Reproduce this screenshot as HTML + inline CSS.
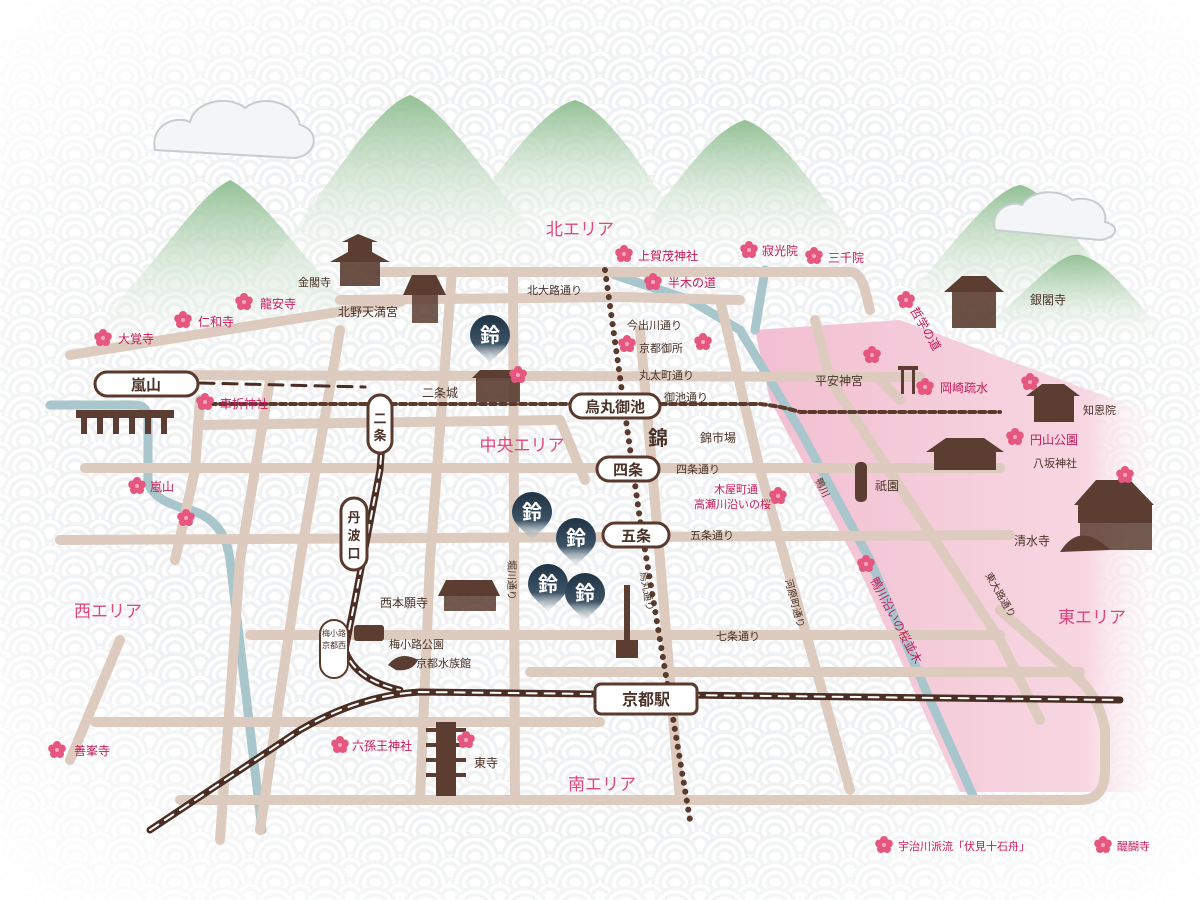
<!DOCTYPE html>
<html><head><meta charset="utf-8">
<style>
html,body{margin:0;padding:0;background:#fff;}
svg{display:block;font-family:"Liberation Sans","Noto Sans CJK JP",sans-serif;}
.t{fill:#4a3328;font-size:11px;}
.p{fill:#c8195a;font-size:12px;}
.area{fill:#e0457e;font-size:17px;}
.st{fill:#4a3328;font-size:15px;font-weight:bold;}
</style></head><body>
<svg width="1200" height="900" viewBox="0 0 1200 900">
<defs>
<pattern id="wave" width="50" height="26" patternUnits="userSpaceOnUse">
 <rect width="50" height="26" fill="#fff"/>
 <g fill="none" stroke="#f0f1f2" stroke-width="3.5">
  <circle cx="0" cy="13" r="22"/><circle cx="0" cy="13" r="15"/><circle cx="0" cy="13" r="8"/>
  <circle cx="50" cy="13" r="22"/><circle cx="50" cy="13" r="15"/><circle cx="50" cy="13" r="8"/>
 </g>
 <circle cx="25" cy="26" r="24" fill="#fff"/>
 <g fill="none" stroke="#f0f1f2" stroke-width="3.5">
  <circle cx="25" cy="26" r="22"/><circle cx="25" cy="26" r="15"/><circle cx="25" cy="26" r="8"/>
 </g>
</pattern>
<radialGradient id="fade" cx="50%" cy="50%" r="70%">
 <stop offset="0.6" stop-color="#fff" stop-opacity="0"/>
 <stop offset="1" stop-color="#fff" stop-opacity="1"/>
</radialGradient>
<linearGradient id="mt" x1="0" y1="0" x2="0" y2="1">
 <stop offset="0" stop-color="#93c095"/>
 <stop offset="0.45" stop-color="#cfe3cf" stop-opacity="0.7"/>
 <stop offset="1" stop-color="#fff" stop-opacity="0"/>
</linearGradient>
<linearGradient id="pink" x1="0" y1="0" x2="1" y2="0">
 <stop offset="0" stop-color="#f2bfd1"/>
 <stop offset="0.8" stop-color="#f7d7e2"/>
 <stop offset="1" stop-color="#fff" stop-opacity="0"/>
</linearGradient>
<linearGradient id="pin" x1="0" y1="0" x2="0" y2="1">
 <stop offset="0" stop-color="#1e3344"/>
 <stop offset="0.6" stop-color="#3d5466"/>
 <stop offset="1" stop-color="#c9d3da" stop-opacity="0.2"/>
</linearGradient>
<g id="sak"><g fill="#e5577f">
 <circle cx="0" cy="-5" r="4"/><circle cx="4.8" cy="-1.5" r="4"/><circle cx="3" cy="4" r="4"/><circle cx="-3" cy="4" r="4"/><circle cx="-4.8" cy="-1.5" r="4"/></g>
 <circle r="2" fill="#f7a8c0"/></g>
<g id="pinm"><path d="M0,28 C-8,18 -20,12 -20,0 A20,20 0 1 1 20,0 C20,12 8,18 0,28Z" fill="url(#pin)"/>
 <text x="0" y="7" text-anchor="middle" fill="#fff" font-size="20" font-weight="bold">鈴</text></g>
</defs>
<rect width="1200" height="900" fill="url(#wave)"/>
<rect width="1200" height="900" fill="url(#fade)"/>

<g fill="url(#mt)">
 <path d="M60,360 C150,280 190,200 230,180 C270,200 330,300 380,330 Z"/>
 <path d="M250,290 C320,200 370,110 410,95 C450,110 500,200 560,260 Z"/>
 <path d="M440,250 C500,170 540,110 575,100 C610,110 650,180 700,250 Z"/>
 <path d="M620,260 C670,190 710,130 745,120 C780,130 830,210 880,270 Z"/>
 <path d="M880,330 C940,260 990,190 1020,185 C1050,190 1090,260 1120,300 Z"/>
 <path d="M980,330 C1030,290 1060,250 1080,255 C1110,260 1150,320 1180,350 Z"/>
</g>
<g fill="#f4f5f6" stroke="#c8cdd0" stroke-width="2">
 <path d="M155,150 C150,125 175,115 190,122 C195,100 230,95 245,108 C260,95 295,100 300,125 C320,130 318,155 295,158 Z"/>
 <path d="M995,230 C990,210 1010,200 1022,205 C1030,190 1060,188 1072,200 C1090,195 1108,205 1105,222 C1120,225 1118,238 1100,240 Z"/>
</g>

<path d="M755,330 L900,320 L1170,420 L1170,792 L960,792 L855,560 L770,400 Z" fill="url(#pink)"/>

<g fill="none" stroke="#a9c6cd" stroke-width="9" stroke-linecap="round">
 <path d="M615,275 L690,300 L740,330 L800,430 L870,560 L930,700 L975,800"/>
 <path d="M765,270 L755,330"/>
 <path d="M50,405 L135,405 Q148,405 148,420 L148,480 Q150,500 190,510 Q225,520 230,560 L262,830"/>
</g>

<g fill="none" stroke="#ddcbbf" stroke-width="10" stroke-linecap="round" stroke-linejoin="round">
 <path d="M380,272 L850,272 Q860,272 865,290 L870,310"/>
 <path d="M340,300 L620,297 L740,300"/>
 <path d="M70,355 L300,318 L400,302"/>
 <path d="M130,375 L920,377"/>
 <path d="M200,425 L560,420"/>
 <path d="M85,468 L1000,468"/>
 <path d="M60,540 L1010,535"/>
 <path d="M250,635 L1000,635"/>
 <path d="M530,672 L1080,672"/>
 <path d="M95,722 L600,722"/>
 <path d="M180,800 L1080,800 Q1105,800 1105,770 L1105,730 Q1100,700 1080,680 L1000,610"/>
 <path d="M452,272 L430,560 L420,800"/>
 <path d="M513,272 L515,800"/>
 <path d="M560,420 L585,480"/>
 <path d="M640,330 L660,560 L680,800"/>
 <path d="M720,300 L760,470 L850,790"/>
 <path d="M815,320 L830,380 L1000,640 L1040,720"/>
 <path d="M340,330 L300,560 L260,830"/>
 <path d="M270,380 L240,560 L220,840"/>
 <path d="M200,400 L195,470 L175,560"/>
 <path d="M120,640 L70,760"/>
 <path d="M880,380 L900,400"/>
</g>

<g fill="none" stroke="#5a3a2c" stroke-width="6" stroke-dasharray="0.1 9" stroke-linecap="round">
 <path d="M605,270 L640,520 L690,820"/>
</g>
<g fill="none" stroke="#5a3a2c" stroke-width="4" stroke-dasharray="6 4" stroke-linecap="round">
 <path d="M200,404 L760,404 Q780,406 800,412 L1000,412"/>
</g>
<g fill="none" stroke-linecap="round">
 <path d="M200,383 L365,387" stroke="#4a2e24" stroke-width="3" stroke-dasharray="14 9"/>
 <path d="M385,400 L380,470 L355,600 L345,650 Q355,680 400,690" stroke="#4a2e24" stroke-width="7"/>
 <path d="M385,400 L380,470 L355,600 L345,650 Q355,680 400,690" stroke="#fff" stroke-width="2" stroke-dasharray="8 6"/>
 <path d="M150,830 L300,730 Q360,695 420,692 L1120,700" stroke="#4a2e24" stroke-width="7"/>
 <path d="M150,830 L300,730 Q360,695 420,692 L1120,700" stroke="#fff" stroke-width="2" stroke-dasharray="10 8"/>
</g>

<g fill="#fff" stroke="#5a3a2c" stroke-width="3">
 <rect x="95" y="372" width="103" height="24" rx="12"/>
 <rect x="570" y="394" width="90" height="24" rx="12"/>
 <rect x="597" y="457" width="62" height="24" rx="12"/>
 <rect x="603" y="523" width="66" height="24" rx="12"/>
 <rect x="595" y="684" width="102" height="30" rx="6"/>
 <rect x="368" y="395" width="24" height="58" rx="12"/>
 <rect x="341" y="498" width="26" height="72" rx="13"/>
 <rect x="320" y="620" width="28" height="58" rx="14" stroke-width="2"/>
</g>
<g class="st" text-anchor="middle">
 <text x="146" y="390">嵐山</text>
 <text x="615" y="412">烏丸御池</text>
 <text x="628" y="475">四条</text>
 <text x="636" y="541">五条</text>
 <text x="646" y="705" font-size="16">京都駅</text>
 <text x="380" y="423" font-size="13">二</text><text x="380" y="440" font-size="13">条</text>
 <text x="354" y="522" font-size="13">丹</text><text x="354" y="540" font-size="13">波</text><text x="354" y="558" font-size="13">口</text>
</g>
<g font-size="8" fill="#4a3328" text-anchor="middle"><text x="334" y="636">梅小路</text><text x="334" y="648">京都西</text></g>

<g class="area" text-anchor="middle">
 <text x="580" y="235">北エリア</text>
 <text x="522" y="451">中央エリア</text>
 <text x="108" y="617">西エリア</text>
 <text x="1092" y="623">東エリア</text>
 <text x="602" y="790">南エリア</text>
</g>

<g fill="#5b3d32">
 <rect x="340" y="262" width="40" height="24" opacity="0.9"/><path d="M330,262 L390,262 L372,252 L348,252Z"/><rect x="348" y="242" width="24" height="10"/><path d="M342,242 L378,242 L358,234Z"/>
 <path d="M403,295 L446,295 L436,275 L412,275Z"/><rect x="412" y="295" width="26" height="28" opacity="0.85"/>
 <rect x="476" y="378" width="44" height="24" opacity="0.9"/><path d="M472,378 L524,378 L516,370 L480,370Z"/>
 <path d="M438,596 L500,596 L492,580 L446,580Z"/><rect x="444" y="596" width="52" height="15" opacity="0.85"/>
 <rect x="436" y="722" width="20" height="74"/><path d="M426,730 L466,730 M426,745 L466,745 M426,760 L466,760 M426,775 L466,775" stroke="#5b3d32" stroke-width="4"/>
 <rect x="624" y="585" width="6" height="60"/><rect x="616" y="640" width="22" height="18"/>
 <rect x="76" y="410" width="98" height="8"/>
 <path d="M84,418 v16 M100,418 v16 M116,418 v16 M132,418 v16 M148,418 v16 M164,418 v16" stroke="#5b3d32" stroke-width="6"/>
 <rect x="952" y="292" width="44" height="36" opacity="0.9"/><path d="M944,292 L1004,292 L986,276 L962,276Z"/>
 <rect x="1034" y="396" width="40" height="26"/><path d="M1026,396 L1080,396 L1064,384 L1042,384Z"/>
 <rect x="934" y="452" width="62" height="18"/><path d="M926,452 L1004,452 L984,438 L946,438Z"/>
 <rect x="855" y="462" width="12" height="40" rx="5"/>
 <path d="M1074,505 L1154,505 L1130,480 L1096,480Z"/><rect x="1078" y="505" width="74" height="18"/><path d="M1080,523 h72 v27 h-72z" opacity="0.85"/><path d="M1060,552 Q1080,520 1110,550Z"/>
 <rect x="898" y="366" width="20" height="4"/><rect x="901" y="370" width="3" height="24"/><rect x="912" y="370" width="3" height="24"/>
 <rect x="354" y="625" width="30" height="16" rx="3"/>
 <path d="M388,665 Q400,650 418,660 Q412,672 396,670Z"/>
 <text x="648" y="445" font-size="20" font-weight="bold" fill="#4a3328">錦</text>
</g>
<use href="#pinm" x="490" y="335"/>
<use href="#pinm" x="532" y="512"/>
<use href="#pinm" x="576" y="538"/>
<use href="#pinm" x="548" y="584"/>
<use href="#pinm" x="585" y="593"/>

<g>
 <use href="#sak" x="103" y="338"/><use href="#sak" x="183" y="320"/><use href="#sak" x="244" y="302"/>
 <use href="#sak" x="205" y="402"/><use href="#sak" x="137" y="486"/><use href="#sak" x="186" y="518"/>
 <use href="#sak" x="518" y="375"/><use href="#sak" x="624" y="254"/><use href="#sak" x="653" y="282"/>
 <use href="#sak" x="749" y="250"/><use href="#sak" x="814" y="256"/><use href="#sak" x="627" y="344"/>
 <use href="#sak" x="703" y="342"/><use href="#sak" x="906" y="300"/><use href="#sak" x="872" y="355"/>
 <use href="#sak" x="925" y="387"/><use href="#sak" x="1030" y="382"/><use href="#sak" x="1015" y="437"/>
 <use href="#sak" x="1125" y="475"/><use href="#sak" x="778" y="496"/><use href="#sak" x="866" y="564"/>
 <use href="#sak" x="57" y="750"/><use href="#sak" x="340" y="745"/><use href="#sak" x="466" y="740"/>
 <use href="#sak" x="884" y="845"/><use href="#sak" x="1103" y="845"/>
</g>

<g class="t">
 <text x="298" y="286">金閣寺</text>
 <text x="338" y="316" font-size="12">北野天満宮</text>
 <text x="527" y="294">北大路通り</text>
 <text x="627" y="329">今出川通り</text>
 <text x="639" y="352">京都御所</text>
 <text x="639" y="379">丸太町通り</text>
 <text x="664" y="401">御池通り</text>
 <text x="422" y="397" font-size="12">二条城</text>
 <text x="700" y="442" font-size="12">錦市場</text>
 <text x="676" y="473">四条通り</text>
 <text x="690" y="539">五条通り</text>
 <text x="716" y="640">七条通り</text>
 <text x="380" y="607" font-size="12">西本願寺</text>
 <text x="389" y="648">梅小路公園</text>
 <text x="416" y="667">京都水族館</text>
 <text x="474" y="767" font-size="12">東寺</text>
 <text x="815" y="385" font-size="12">平安神宮</text>
 <text x="1030" y="304" font-size="12">銀閣寺</text>
 <text x="1083" y="414">知恩院</text>
 <text x="1033" y="467">八坂神社</text>
 <text x="875" y="490" font-size="12">祇園</text>
 <text x="1014" y="545" font-size="12">清水寺</text>
 <g font-size="10">
  <text transform="translate(508,560) rotate(90)">堀川通り</text>
  <text transform="translate(640,572) rotate(80)">烏丸通り</text>
  <text transform="translate(785,580) rotate(75)">河原町通り</text>
  <text transform="translate(985,575) rotate(60)">東大路通り</text>
  <text transform="translate(815,480) rotate(65)">鴨川</text>
 </g>
</g>
<g class="p">
 <text x="118" y="343">大覚寺</text>
 <text x="198" y="326">仁和寺</text>
 <text x="260" y="308">龍安寺</text>
 <text x="220" y="408">車折神社</text>
 <text x="150" y="491">嵐山</text>
 <text x="638" y="260">上賀茂神社</text>
 <text x="668" y="287">半木の道</text>
 <text x="762" y="255">寂光院</text>
 <text x="828" y="262">三千院</text>
 <text x="940" y="392">岡崎疏水</text>
 <text x="1030" y="444">円山公園</text>
 <text x="714" y="493" font-size="11">木屋町通</text>
 <text x="694" y="508" font-size="11">高瀬川沿いの桜</text>
 <text x="74" y="755">善峯寺</text>
 <text x="352" y="750">六孫王神社</text>
 <text x="898" y="850" font-size="11">宇治川派流「伏見十石舟」</text>
 <text x="1117" y="850" font-size="11">醍醐寺</text>
 <text transform="translate(910,310) rotate(60)">哲学の道</text>
 <text transform="translate(870,580) rotate(62)">鴨川沿いの桜並木</text>
</g>
</svg>
</body></html>
